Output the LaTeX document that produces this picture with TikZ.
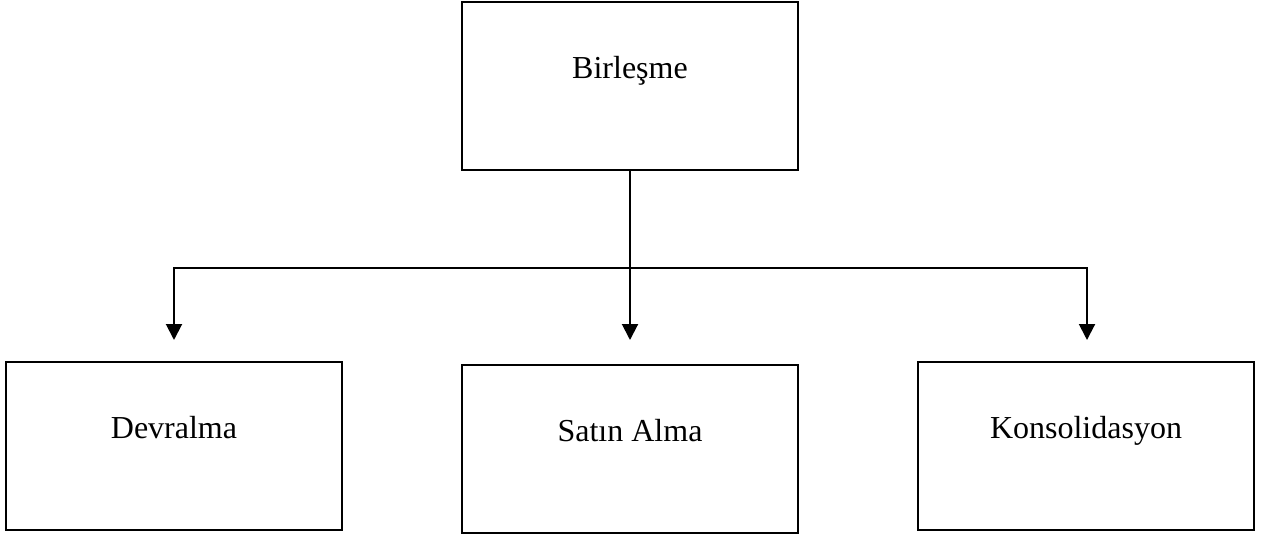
\documentclass[tikz,border=0pt]{standalone}
\usepackage{fontspec}
\setmainfont{Liberation Serif}
\usetikzlibrary{arrows.meta}

\begin{document}
\begin{tikzpicture}[
			x=0.5pt,y=-0.5pt,
			kutu/.style={rectangle,draw,line width=1pt,minimum width=168pt,
				inner xsep=0pt,inner ysep=0pt,text height=38.5pt,text depth=45.5pt,
				font=\fontsize{16}{19}\selectfont},
			hat/.style={line width=1pt},
			ok/.style={line width=1pt,-{Triangle[width=8pt,length=8pt]}}]
			\useasboundingbox (0,0) rectangle (1262,535);
			% ust kutu
			\node [kutu] (birlesme) 	at (630,86)		{Birleşme};
			% alt kutular
			\node [kutu] (devralma) 	at (174,445.5)	{Devralma};
			\node [kutu] (satinalma) 	at (630,448.5)	{Satın Alma};
			\node [kutu] (konsol) 		at (1086,445.5)	{Konsolidasyon};
			% yatay hat ve ok uclari
			\coordinate (hatorta) 	at (630,268);
			\coordinate (uc1) 		at (174,340);
			\coordinate (uc2) 		at (630,340);
			\coordinate (uc3) 		at (1087,340);
			\draw [hat] (birlesme.south) -- (hatorta);
			\draw [ok] (hatorta) -| (uc1);
			\draw [ok] (hatorta) -- (uc2);
			\draw [ok] (hatorta) -| (uc3);
		\end{tikzpicture}
\end{document}
